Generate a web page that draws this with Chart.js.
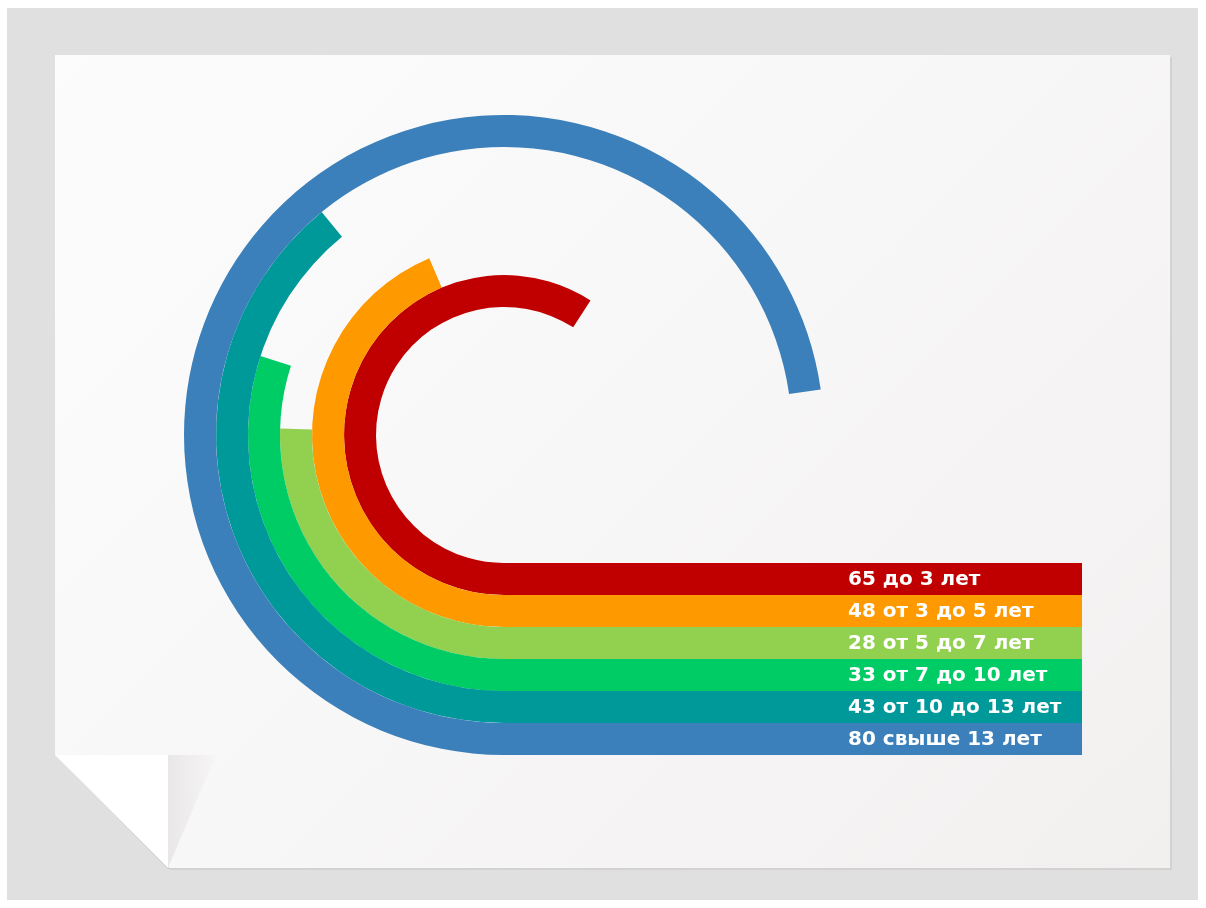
<!DOCTYPE html>
<html>
<head>
<meta charset="utf-8">
<script src="https://cdn.jsdelivr.net/npm/chart.js@4/dist/chart.umd.min.js"></script>
<style>
  html, body { margin: 0; padding: 0; background: #fff; width: 1206px; height: 908px; overflow: hidden; }
  .frame { position: absolute; left: 7px; top: 8px; width: 1191px; height: 892px; background: #e0e0e0; }
  .paper {
    position: absolute; left: 55px; top: 55px; width: 1115px; height: 813px;
    background: linear-gradient(135deg, #fcfcfc 0%, #f8f7f7 50%, #f2efef 100%);
    clip-path: polygon(0 0, 100% 0, 100% 100%, 113px 100%, 0 700px);
  }
  .shadow {
    position: absolute; left: 57px; top: 57px; width: 1115px; height: 813px;
    background: #d2d2d2;
    clip-path: polygon(0 0, 100% 0, 100% 100%, 113px 100%, 0 700px);
  }
  .shade {
    position: absolute; left: 168px; top: 755px; width: 48px; height: 113px;
    background: linear-gradient(90deg, rgba(205,200,200,0.35), rgba(225,220,220,0.08));
    clip-path: polygon(0 0, 100% 0, 0 100%);
  }
  .fold {
    position: absolute; left: 55px; top: 755px; width: 113px; height: 113px;
    background: #fff;
    clip-path: polygon(0 0, 100% 0, 100% 100%);
  }
  .fold-edge {
    position: absolute; left: 55px; top: 755px; width: 114px; height: 114px;
    background: #c9c9c9;
    clip-path: polygon(0 0, 2px 0, 100% 99%, 100% 100%, 99% 100%);
  }
  #chart { position: absolute; left: 0; top: 0; }
</style>
</head>
<body>
<div class="frame"></div>
<div class="shadow"></div>
<div class="paper"></div>
<div class="shade"></div>
<div class="fold-edge"></div>
<div class="fold"></div>
<canvas id="chart" width="1206" height="908"></canvas>
<script>
// categories from inner ring to outer ring
const categories = ['до 3 лет', 'от 3 до 5 лет', 'от 5 до 7 лет', 'от 7 до 10 лет', 'от 10 до 13 лет', 'свыше 13 лет'];
const values = [65, 48, 28, 33, 43, 80];
const colors = ['#C00000', '#FF9900', '#92D050', '#00CC66', '#009999', '#3B80BA'];
const scaleMax = 110;

const tailEnd = 1082;   // right end of the horizontal bars
const labelX = 848;

// Chart.js puts dataset 0 on the outside, so reverse
const datasets = categories.map((c, i) => ({
  label: c,
  data: [values[i], scaleMax - values[i]],
  backgroundColor: [colors[i], 'rgba(0,0,0,0)'],
  borderWidth: 0,
})).reverse();

const tailPlugin = {
  id: 'tails',
  afterDatasetsDraw(chart) {
    const ctx = chart.ctx;
    ctx.save();
    chart.data.datasets.forEach((ds, di) => {
      const arc = chart.getDatasetMeta(di).data[0];
      const y0 = arc.y + arc.innerRadius;
      const y1 = arc.y + arc.outerRadius;
      ctx.fillStyle = ds.backgroundColor[0];
      ctx.fillRect(arc.x - 1, y0, tailEnd - arc.x + 1, y1 - y0);
      ctx.fillStyle = '#ffffff';
      ctx.font = 'bold 20px "DejaVu Sans", sans-serif';
      ctx.textBaseline = 'middle';
      ctx.textAlign = 'left';
      ctx.fillText(ds.data[0] + ' ' + ds.label, labelX, (y0 + y1) / 2 + 1);
    });
    ctx.restore();
  }
};

new Chart(document.getElementById('chart'), {
  type: 'doughnut',
  data: { labels: ['value', 'rest'], datasets },
  options: {
    responsive: false,
    animation: false,
    rotation: 180,
    circumference: 360,
    cutout: '40%',
    layout: { padding: { left: 184, right: 382, top: 115, bottom: 153 } },
    events: [],
    plugins: {
      legend: { display: false },
      tooltip: { enabled: false },
    },
  },
  plugins: [tailPlugin],
});
</script>
</body>
</html>
